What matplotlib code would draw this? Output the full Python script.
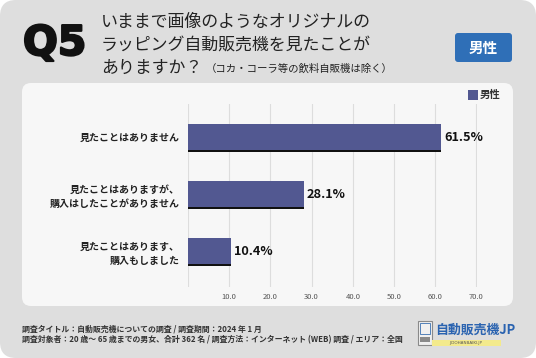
import matplotlib
matplotlib.use("Agg")
import matplotlib.pyplot as plt
import matplotlib.patheffects as pe
from matplotlib.patches import FancyBboxPatch, Rectangle

plt.rcParams['font.family'] = ['Noto Sans CJK JP', 'DejaVu Sans']

# Data
categories = ["見たことはありません",
              "見たことはありますが、\n購入はしたことがありません",
              "見たことはあります、\n購入もしました"]
values = [61.5, 28.1, 10.4]
series_name = "男性"
xticks = [10, 20, 30, 40, 50, 60, 70]

title_lines = ["いままで画像のようなオリジナルの",
               "ラッピング自動販売機を見たことが",
               "ありますか？"]
subtitle = "（コカ・コーラ等の飲料自販機は除く）"
footer_lines = ["調査タイトル：自動販売機についての調査 / 調査期間：2024 年 1 月",
                "調査対象者：20 歳～ 65 歳までの男女、合計 362 名 / 調査方法：インターネット (WEB) 調査 / エリア：全国"]

W, H = 536, 358
bar_color = "#525891"

fig = plt.figure(figsize=(W / 100, H / 100), dpi=100)
fig.patch.set_facecolor("white")

# background canvas in pixel coords
bg = fig.add_axes([0, 0, 1, 1])
bg.set_xlim(0, W)
bg.set_ylim(H, 0)
bg.axis("off")

bg.add_patch(FancyBboxPatch((0, 0), W, H, boxstyle="round,pad=0,rounding_size=16",
                            fc="#dedede", ec="none"))
bg.add_patch(FancyBboxPatch((22, 83), 491, 223, boxstyle="round,pad=0,rounding_size=9",
                            fc="#f7f7f7", ec="none"))

# header
bg.text(23, 44, "Q5", fontsize=29.5, fontweight="heavy", color="#111111",
        ha="left", va="center", family=["DejaVu Sans"],
        path_effects=[pe.withStroke(linewidth=1.6, foreground="#111111")])
for i, line in enumerate(title_lines):
    bg.text(101, 22 + i * 23, line, fontsize=12.2, color="#222222",
            ha="left", va="center")
bg.text(206, 69, subtitle, fontsize=7.5, color="#222222", ha="left", va="center")

bg.add_patch(FancyBboxPatch((455, 33), 57, 29, boxstyle="round,pad=0,rounding_size=3",
                            fc="#2f6fb7", ec="none"))
bg.text(483.5, 47.5, series_name, fontsize=10.5, color="white", fontweight="bold",
        ha="center", va="center")

# footer
for i, line in enumerate(footer_lines):
    bg.text(22, 329 + i * 11, line, fontsize=5.7, color="#333333", fontweight="bold",
            ha="left", va="center")

# logo
bg.add_patch(Rectangle((418, 321), 14, 24, fc="#f0f0f0", ec="#8a8a8a", lw=0.8))
bg.add_patch(Rectangle((420, 323), 10, 11, fc="none", ec="#3a6fb0", lw=0.6))
bg.add_patch(Rectangle((420, 337), 10, 5, fc="#8a8a8a", ec="none"))
bg.add_patch(Rectangle((432, 340), 69, 6, fc="#f3ea8c", ec="none"))
bg.text(435, 330, "自動販売機JP", fontsize=9.3, fontweight="bold", color="#2a63b0",
        ha="left", va="center")
bg.text(466, 343, "JIDOHANBAIKI.JP", fontsize=3, color="#555555",
        ha="center", va="center", family=["DejaVu Sans"])

# chart
ax = fig.add_axes([188 / W, 1 - 287 / H, (476.5 - 188) / W, (287 - 104) / H])
ax.set_facecolor("none")
y = list(range(len(categories)))
h = 0.47
ax.barh([v + 0.035 for v in y], values, height=h, color="#111111", zorder=2)
ax.barh(y, values, height=h, color=bar_color, zorder=3)
for yi, v in zip(y, values):
    ax.text(v + 0.7, yi, f"{v}%", fontsize=9.2, fontweight="bold", color="#111111",
            ha="left", va="center")

ax.set_xlim(0, 70)
ax.set_ylim(2.63, -0.58)
ax.set_xticks(xticks)
ax.set_xticklabels([f"{t:.1f}" for t in xticks], fontsize=5.5, color="#555555")
ax.set_yticks(y)
ax.set_yticklabels(categories, fontsize=7.2, fontweight="bold", color="#222222",
                   linespacing=1.45)
ax.tick_params(axis="x", length=0, pad=4)
ax.tick_params(axis="y", length=0, pad=6)
ax.grid(axis="x", color="#dddddd", lw=0.8, zorder=0)
ax.axvline(0, color="#dddddd", lw=0.8, zorder=0)
for s in ax.spines.values():
    s.set_visible(False)

# legend
bg.add_patch(Rectangle((468, 90), 10, 9.5, fc=bar_color, ec="none"))
bg.text(480, 95, series_name, fontsize=7.5, fontweight="bold", color="#333333",
        ha="left", va="center")

fig.savefig("out.png", dpi=100)
